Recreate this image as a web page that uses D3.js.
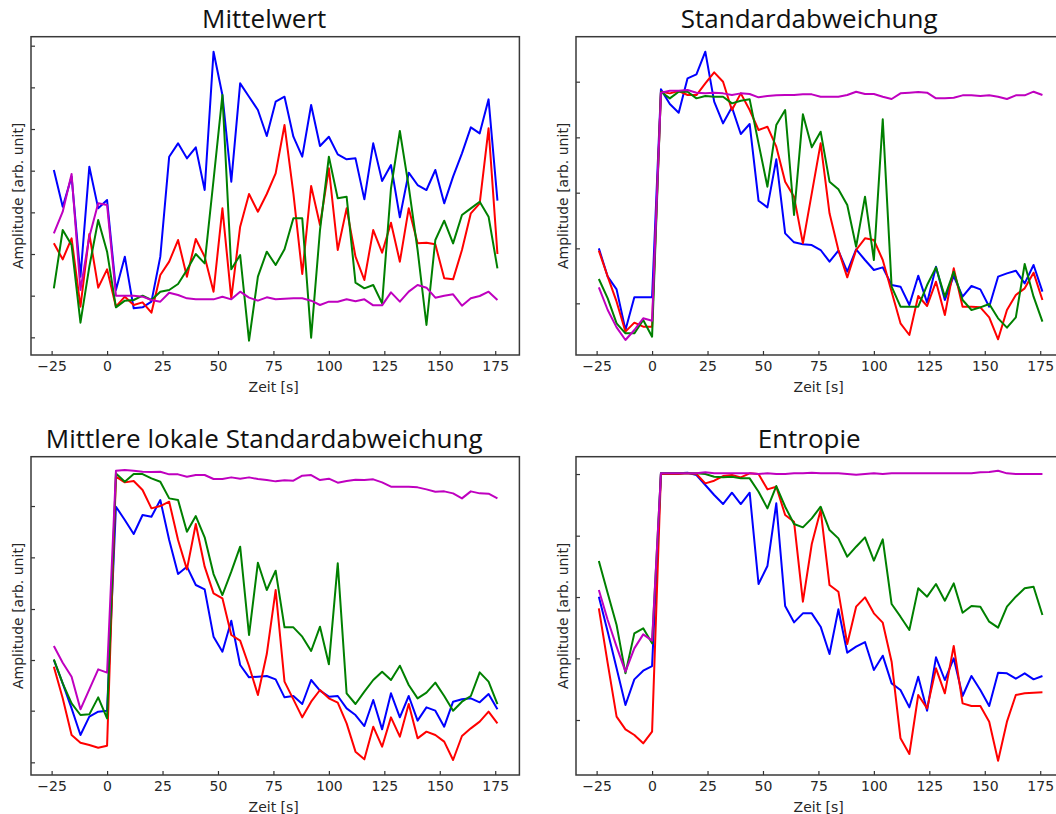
<!DOCTYPE html>
<html>
<head>
<meta charset="utf-8">
<script src="https://cdn.jsdelivr.net/npm/d3@7"></script>
<style>
  html, body { margin: 0; padding: 0; background: #fff; }
  svg { display: block; }
</style>
</head>
<body>
<div id="chart"></div>
<script>
/* Time axis (seconds), one sample every 4 s */
const TIME = [-24, -20, -16, -12, -8, -4, 0, 4, 8, 12, 16, 20, 24, 28, 32, 36, 40, 44, 48, 52,
  56, 60, 64, 68, 72, 76, 80, 84, 88, 92, 96, 100, 104, 108, 112, 116, 120, 124, 128, 132,
  136, 140, 144, 148, 152, 156, 160, 164, 168, 172, 176];
const X_TICKS = [-25, 0, 25, 50, 75, 100, 125, 150, 175];

/* Amplitudes in arbitrary units */
const meanBlue = [58, 47, 56, 26, 59, 46.5, 49, 22, 32, 16.5, 16.8, 18.5, 32, 62, 66, 61.5, 64.8, 52, 93.5, 80.5,
  54.5, 84, 80, 76, 68.2, 78.5, 80, 68, 62, 77.5, 65.2, 68, 62.7, 61.2, 61.5, 49.2, 66, 54.7, 59.5, 43.8,
  57.2, 53.5, 52, 58, 48, 56, 63, 70.8, 69, 79.2, 48.8];
const meanRed = [36, 31.2, 37.5, 17, 38.8, 22.7, 28.2, 17, 20, 17.5, 18.3, 15.2, 26.5, 30.5, 37, 26, 37.3, 32, 21.5, 46.5,
  19.5, 41, 50.8, 45.5, 50.8, 57, 71.5, 51, 26.8, 53.2, 41.5, 58.5, 34, 46.5, 32, 25, 40, 33.2, 42.2, 30.5,
  46.5, 36, 36.2, 35.7, 25.5, 25.2, 34, 45, 48, 70.5, 32.8];
const meanGreen = [22.5, 40, 35.5, 12.2, 29, 43, 33.5, 16.8, 18.8, 19, 20.3, 19, 21.5, 22, 23.8, 28, 32.8, 30, 55, 80.5,
  28.2, 32.5, 6.8, 26, 33.5, 29.5, 34.2, 43.5, 43.5, 7.7, 40, 62, 49.5, 50, 24.2, 22.5, 23.5, 18, 52.5, 69.7,
  53, 34, 11.5, 37, 42.8, 36, 44.5, 46.5, 48.5, 44, 28.5];
const meanMagenta = [39, 45.5, 56.8, 22, 38, 48, 47.5, 20.3, 20.3, 20.3, 20, 19, 18.5, 21.2, 20.5, 19.5, 19.2, 19.2, 19.2, 20,
  19.2, 21.5, 19.7, 18.8, 19.8, 19.2, 19.4, 19.5, 19.5, 18.8, 17.5, 18.5, 18.5, 19.2, 18.6, 19.2, 17.4, 17.4, 21.3, 18.5,
  21.5, 23.5, 22.7, 19.7, 20.3, 20.7, 17.3, 19.5, 20.2, 21.5, 19];

const stdBlue = [34.5, 26, 22.2, 10, 19.8, 19.8, 19.8, 82.2, 77.8, 75.2, 85.5, 86.7, 93.5, 78.5, 72, 76.8, 68.8, 71.8, 48.8, 46.8,
  61.2, 39, 36.3, 35.7, 35.5, 34, 30.5, 33.8, 27.5, 34.2, 31, 28, 28.8, 23.5, 23, 17.5, 26.3, 18.2, 29, 19,
  26.2, 20, 23.2, 22.2, 17, 26, 27, 27.8, 24, 29.5, 21.5];
const stdRed = [33.8, 26, 18.5, 9.5, 12.2, 11, 11, 81.5, 81, 81.7, 80.5, 80.5, 84, 87.3, 84.5, 76, 81, 76, 70, 71,
  65, 54.5, 50, 36, 51, 66, 45, 34, 25.8, 34, 37.5, 37, 31, 21.5, 12, 8.5, 20.2, 17.2, 24.5, 14.5,
  28.5, 17, 17, 16.8, 13.8, 7.2, 16, 20.5, 22.5, 27.2, 19];
const stdGreen = [25.3, 19.5, 12, 9, 9, 13, 8, 81.5, 79.5, 81.5, 81.5, 79.5, 80.2, 80, 80, 78, 78.8, 79.2, 66, 53,
  71.5, 76, 44.5, 74.7, 64.8, 69.5, 54.5, 52.2, 47.5, 35, 50, 31, 73.2, 23, 17, 17, 17, 23.5, 28.8, 20,
  27.5, 19, 16, 16.8, 17.8, 13.5, 10.7, 13.8, 29.8, 20, 12.5];
const stdMagenta = [22.8, 16, 10.8, 7, 10, 13.5, 12.8, 81.2, 81.8, 81.8, 82, 81.2, 81, 81.2, 81, 80.5, 81, 80.8, 79.8, 80.2,
  80.4, 80.5, 80.5, 80.7, 80.7, 80, 80, 80, 80.5, 81.5, 80.8, 80.8, 80, 79.3, 81, 81.2, 81.4, 81.2, 79.5, 79.5,
  79.7, 80.4, 80.4, 80.2, 80.4, 80, 79.3, 80.4, 80.4, 81.5, 80.5];

const localStdBlue = [37, 30, 22.5, 14.5, 20, 21.5, 21.8, 83, 79, 74.8, 80.5, 80, 85, 73, 62.8, 65, 59.5, 58.2, 44, 39.5,
  48.8, 35.5, 31.8, 32, 32.2, 31.2, 25.8, 26.2, 23.8, 31, 27.8, 26, 26.2, 22.5, 20.5, 17.2, 25, 16.2, 27, 19.8,
  26.2, 18.8, 22.8, 21.8, 17, 24.5, 25.2, 25.5, 24.3, 26.8, 22.2];
const localStdRed = [35, 25.5, 14.5, 12.2, 11.5, 10.7, 11.3, 92, 90.3, 90.7, 88, 82.5, 83.2, 84.5, 73, 64.2, 77.8, 65, 57, 55.5,
  44.5, 42.8, 35.2, 26.5, 38.8, 58, 30.5, 25.2, 19.8, 24.5, 28, 25.5, 24.2, 18, 9.5, 7.2, 17, 11, 19.8, 14,
  23.8, 13.5, 15.5, 14.5, 12.5, 7, 14.2, 16.5, 18.5, 21.5, 18];
const localStdGreen = [37.2, 30, 24, 20.5, 20.7, 25.8, 19.5, 93, 90.5, 92.8, 92.8, 91.5, 90.5, 85.5, 85, 75.5, 80.2, 73.8, 62.8, 56.5,
  63.5, 71, 44.5, 66.2, 58, 63.8, 46.8, 46.8, 44, 39.7, 47, 35.7, 66, 27, 23.8, 27.5, 31, 33.5, 31, 35.3,
  29.5, 25.5, 27.2, 30.2, 26.2, 21.8, 24.5, 26.2, 33.3, 30.5, 23.8];
const localStdMagenta = [41.2, 36.2, 32, 22.2, 28.2, 34.2, 33.2, 93.8, 94, 93.8, 93.5, 93.4, 93.5, 92.7, 92.7, 92, 92.5, 92.5, 91.3, 91.3,
  91.8, 91.4, 91.8, 91.3, 91, 90.6, 90.9, 90.8, 92.3, 92.5, 91, 91.4, 90.2, 90.7, 91.1, 91, 91.2, 90.3, 89, 89,
  89, 88.8, 88.2, 87.5, 87.6, 87, 85.5, 87.6, 87, 86.9, 85.5];

const entropyBlue = [56, 45.5, 34.5, 23.5, 31.2, 33.8, 35.2, 93, 93, 93, 93.2, 92.5, 89.5, 86.5, 83.8, 87.2, 83.8, 87.2, 59.8, 65.2,
  84, 53.2, 48.3, 51, 51, 47, 38.8, 52.2, 39.2, 41, 42.4, 34, 38.3, 30, 28, 22.8, 32, 21.8, 37.8, 31,
  37.5, 26.2, 32.2, 28, 23.2, 33.2, 33, 31.4, 33, 31.2, 32.2];
const entropyRed = [52.5, 36, 20, 16.2, 14.5, 12, 15.5, 92.8, 92.8, 92.8, 93, 92.8, 90, 90.8, 92.2, 92.5, 91.8, 93, 92.8, 88.2,
  89, 80.5, 78.5, 54.5, 71.8, 82, 59.5, 57.5, 41.8, 53, 55.8, 51, 48.2, 36.5, 13.5, 8.8, 26.5, 22.5, 34.5, 27,
  41.2, 24, 23.2, 23.2, 18.5, 6.8, 18.5, 26.5, 27, 27.2, 27.3];
const entropyGreen = [66.7, 57, 47.5, 33, 45, 46.5, 42, 93, 93, 93, 93, 93, 92.8, 92, 91.8, 92, 91.5, 91.5, 87.5, 82.5,
  89.2, 83, 77.8, 76.8, 79.5, 83, 76, 73.5, 68, 71, 73.8, 66.8, 73.2, 53.8, 50, 46, 58.5, 56, 59.8, 54.8,
  60, 51.2, 53.2, 53, 48.5, 46.7, 53, 56, 58.5, 59, 50.5];
const entropyMagenta = [58, 49, 41, 33.5, 40.5, 44.7, 42.8, 93, 93, 93, 93, 93, 93.3, 93, 93, 93, 93, 93, 92.8, 93,
  92.8, 92.8, 93, 93, 93.2, 93, 93, 93, 92.8, 92.6, 92.8, 93, 92.8, 93, 93, 93, 93, 93, 93, 93,
  93, 93, 93, 93.3, 93.4, 93.8, 93, 92.8, 92.8, 92.8, 92.8];

/* Unlabelled y tick positions (same arbitrary units) */
const meanYTicks = [7.8, 20.3, 32.8, 45.3, 57.8, 70.3, 82.8, 95.3];
const stdYTicks = [18, 34.5, 51.2, 67.8, 84.5];
const localStdYTicks = [6.3, 21.8, 37, 52.3, 67.8, 83.2];
const entropyYTicks = [19, 37.5, 55.9, 74.3, 92.8];

const TITLES = ["Mittelwert", "Standardabweichung", "Mittlere lokale Standardabweichung", "Entropie"];
const SERIES_COLORS = ["#0000ff", "#ff0000", "#008000", "#bf00bf"];

const panels = [
  { title: TITLES[0], series: [meanBlue, meanRed, meanGreen, meanMagenta], yTicks: meanYTicks, left: 31, top: 36.7 },
  { title: TITLES[1], series: [stdBlue, stdRed, stdGreen, stdMagenta], yTicks: stdYTicks, left: 576, top: 36.7 },
  { title: TITLES[2], series: [localStdBlue, localStdRed, localStdGreen, localStdMagenta], yTicks: localStdYTicks, left: 31, top: 456.7 },
  { title: TITLES[3], series: [entropyBlue, entropyRed, entropyGreen, entropyMagenta], yTicks: entropyYTicks, left: 576, top: 456.7 }
];

const W = 1056, H = 814;
const pw = 488.4, ph = 318.3;

const svg = d3.select("#chart").append("svg")
  .attr("width", W).attr("height", H)
  .style("background", "#fff");

const TICK_FONT = "'DejaVu Sans', sans-serif";

panels.forEach(p => {
  const x = d3.scaleLinear().domain([-34.3, 185.9]).range([0, pw]);
  const y = d3.scaleLinear().domain([2.5, 98]).range([ph, 0]);

  const g = svg.append("g").attr("transform", `translate(${p.left},${p.top})`);

  /* title — sits a little left of the axes centre, like the original */
  svg.append("text")
    .attr("x", p.left + pw / 2 - 11).attr("y", p.top - 8.5)
    .attr("text-anchor", "middle")
    .style("font-family", "'Open Sans', sans-serif")
    .style("font-size", "26px").style("fill", "#111")
    .text(p.title);

  /* x axis, ticks pointing inward */
  const xAx = g.append("g").attr("transform", `translate(0,${ph})`)
    .call(d3.axisBottom(x).tickValues(X_TICKS).tickSizeInner(-4).tickSizeOuter(0).tickPadding(6.5));
  xAx.select(".domain").remove();
  xAx.selectAll("line").attr("stroke", "#333").attr("stroke-width", 1.2);
  xAx.selectAll("text").style("font-family", TICK_FONT).style("font-size", "14px").attr("fill", "#262626");

  /* y axis, unlabelled inward ticks */
  const yAx = g.append("g")
    .call(d3.axisLeft(y).tickValues(p.yTicks).tickSizeInner(-4).tickSizeOuter(0).tickFormat(""));
  yAx.select(".domain").remove();
  yAx.selectAll("line").attr("stroke", "#333").attr("stroke-width", 1.2);

  g.append("text")
    .attr("x", x(75) + 0.3).attr("y", ph + 36.7)
    .attr("text-anchor", "middle")
    .style("font-family", TICK_FONT).style("font-size", "14px").style("fill", "#262626")
    .text("Zeit [s]");

  g.append("text")
    .attr("transform", `translate(-8.3,${ph / 2}) rotate(-90)`)
    .attr("text-anchor", "middle")
    .style("font-family", TICK_FONT).style("font-size", "14px").style("fill", "#262626")
    .text("Amplitude [arb. unit]");

  const line = d3.line().x((d, i) => x(TIME[i])).y(d => y(d));

  p.series.forEach((vals, k) => {
    g.append("path").datum(vals)
      .attr("d", line)
      .attr("fill", "none")
      .attr("stroke", SERIES_COLORS[k])
      .attr("stroke-width", 2)
      .attr("stroke-linejoin", "round");
  });

  /* frame */
  g.append("rect")
    .attr("x", 0).attr("y", 0).attr("width", pw).attr("height", ph)
    .attr("fill", "none").attr("stroke", "#3a3a3a").attr("stroke-width", 1.5);
});
</script>
</body>
</html>
